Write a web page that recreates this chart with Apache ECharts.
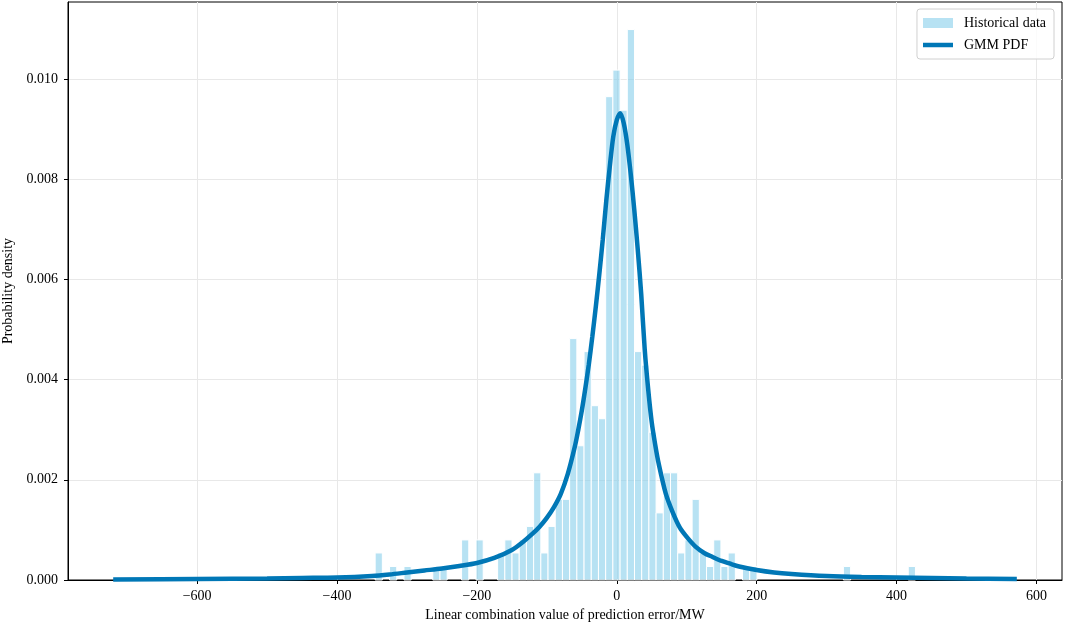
<!DOCTYPE html>
<html>
<head>
<meta charset="utf-8">
<script src="https://cdn.jsdelivr.net/npm/echarts@6/dist/echarts.min.js"></script>
<style>
  html, body { margin: 0; padding: 0; background: #fff; }
  #chart { width: 1065px; height: 626px; }
</style>
</head>
<body>
<div id="chart"></div>
<script>
  // histogram: left edge of the first bin and width of every bin
  var binLeft = -345.45;
  var binWidth = 10.3;
  var histDensity = [
    0.00054, 0, 0.00027, 0, 0.00027, 0, 0, 0, 0.00027, 0.00027,
    0, 0, 0.00080, 0, 0.00080, 0, 0, 0.00054, 0.00080, 0.00054,
    0.00080, 0.00107, 0.00214, 0.00054, 0.00107, 0.00161, 0.00161, 0.00482, 0.00268, 0.00456,
    0.00348, 0.00322, 0.00965, 0.01018, 0.00938, 0.01099, 0.00456, 0.00429, 0.00295, 0.00134,
    0.00214, 0.00214, 0.00054, 0.00080, 0.00161, 0.00054, 0.00027, 0.00080, 0.00027, 0.00054,
    0, 0.00027, 0.00027, 0, 0, 0, 0, 0, 0, 0,
    0, 0, 0, 0, 0, 0.00027, 0, 0, 0, 0,
    0, 0, 0, 0, 0.00027
  ];

  // GMM pdf
  var pdfX = [-720, -600, -500, -450, -400, -350, -325, -300, -275, -250,
    -225, -200, -175, -150, -135, -120, -110, -100, -90, -80,
    -70, -60, -55, -50, -45, -40, -35, -30, -25, -20,
    -15, -10, -5, 0, 5, 10, 15, 20, 25, 30,
    35, 40, 45, 50, 55, 60, 70, 80, 90, 100,
    113, 125, 137, 150, 161, 175, 200, 225, 250, 300,
    350, 400, 500, 572];
  var pdfY = [0.00001, 0.00002, 0.00003, 0.00004, 0.00005, 0.00008, 0.00011, 0.00015, 0.00019, 0.00023,
    0.00028, 0.00034, 0.00044, 0.00060, 0.00075, 0.00093, 0.00107, 0.00124, 0.00145, 0.00172,
    0.00212, 0.00266, 0.00300, 0.00338, 0.00382, 0.00430, 0.00485, 0.00545, 0.00610, 0.00680,
    0.00757, 0.00825, 0.00885, 0.00918, 0.00932, 0.00912, 0.00870, 0.00810, 0.00740, 0.00660,
    0.00570, 0.00460, 0.00380, 0.00315, 0.00270, 0.00232, 0.00173, 0.00135, 0.00105, 0.00086,
    0.00066, 0.00054, 0.00046, 0.00038, 0.00033, 0.00027, 0.00020, 0.00015, 0.00012, 0.00008,
    0.00006, 0.00005, 0.00003, 0.00002];

  var xTicks = [-600, -400, -200, 0, 200, 400, 600];
  var yTicks = [0, 0.002, 0.004, 0.006, 0.008, 0.010];

  var fontName = 'Liberation Serif';

  var histData = histDensity.map(function (d, i) {
    return [binLeft + i * binWidth, binLeft + (i + 1) * binWidth, d];
  });
  var pdfData = pdfX.map(function (x, i) {
    return [x, pdfY[i]];
  });

  var chart = echarts.init(document.getElementById('chart'), null, {renderer: 'canvas'});

  var option = {
    animation: false,
    backgroundColor: '#fff',
    textStyle: {fontFamily: fontName},
    grid: {
      left: 68, right: 3, top: 2, bottom: 46,
      containLabel: false, outerBoundsMode: 'none',
      show: true, borderColor: '#000', borderWidth: 1, backgroundColor: 'transparent'
    },
    legend: {
      orient: 'vertical',
      right: 11, top: 9,
      itemWidth: 30, itemHeight: 10, itemGap: 8,
      symbolKeepAspect: true,
      padding: [7, 8, 7, 6],
      borderColor: '#d0d0d0', borderWidth: 1, borderRadius: 3,
      backgroundColor: 'rgba(255,255,255,0.8)',
      textStyle: {fontFamily: fontName, fontSize: 14, color: '#000', padding: [0, 0, 0, 6]},
      data: [
        {name: 'Historical data', icon: 'rect'},
        {name: 'GMM PDF', icon: 'path://M0,0h30v4.5h-30z'}
      ]
    },
    xAxis: {
      type: 'value',
      min: -784.6, max: 636.6,
      name: 'Linear combination value of prediction error/MW',
      nameLocation: 'middle', nameGap: 26,
      nameTextStyle: {fontFamily: fontName, fontSize: 14, color: '#000'},
      axisLine: {show: true, onZero: false, lineStyle: {color: '#000', width: 1}},
      axisTick: {show: true, length: 4, lineStyle: {color: '#000'}, customValues: xTicks},
      axisLabel: {
        fontFamily: fontName, fontSize: 14, color: '#000', margin: 9,
        customValues: xTicks,
        formatter: function (v) { return String(v).replace('-', '\u2212'); }
      },
      splitLine: {show: true, lineStyle: {color: '#e8e8e8', width: 1}}
    },
    yAxis: {
      type: 'value',
      min: 0, max: 0.01154,
      name: 'Probability density',
      nameLocation: 'middle', nameGap: 48,
      nameTextStyle: {fontFamily: fontName, fontSize: 14, color: '#000'},
      axisLine: {show: true, onZero: false, lineStyle: {color: '#000', width: 1}},
      axisTick: {show: true, length: 4, lineStyle: {color: '#000'}, customValues: yTicks},
      axisLabel: {
        fontFamily: fontName, fontSize: 14, color: '#000', margin: 10,
        customValues: yTicks,
        formatter: function (v) { return v.toFixed(3); }
      },
      splitLine: {show: true, lineStyle: {color: '#e8e8e8', width: 1}}
    },
    series: [
      {
        name: 'Historical data',
        type: 'custom',
        itemStyle: {color: 'rgba(135,206,235,0.6)'},
        encode: {x: [0, 1], y: 2},
        data: histData,
        renderItem: function (params, api) {
          var d = api.value(2);
          if (!d) return null;
          var p0 = api.coord([api.value(0), 0]);
          var p1 = api.coord([api.value(1), d]);
          return {
            type: 'rect',
            shape: {x: p0[0], y: p1[1], width: p1[0] - p0[0], height: p0[1] - p1[1]},
            style: {fill: 'rgba(135,206,235,0.6)', stroke: '#fff', lineWidth: 1}
          };
        },
        z: 2
      },
      {
        name: 'GMM PDF',
        type: 'line',
        data: pdfData,
        symbol: 'none',
        smooth: 0.3,
        itemStyle: {color: '#0077b6'},
        lineStyle: {color: '#0077b6', width: 4.5},
        z: 3
      }
    ]
  };

  chart.setOption(option);
</script>
</body>
</html>
